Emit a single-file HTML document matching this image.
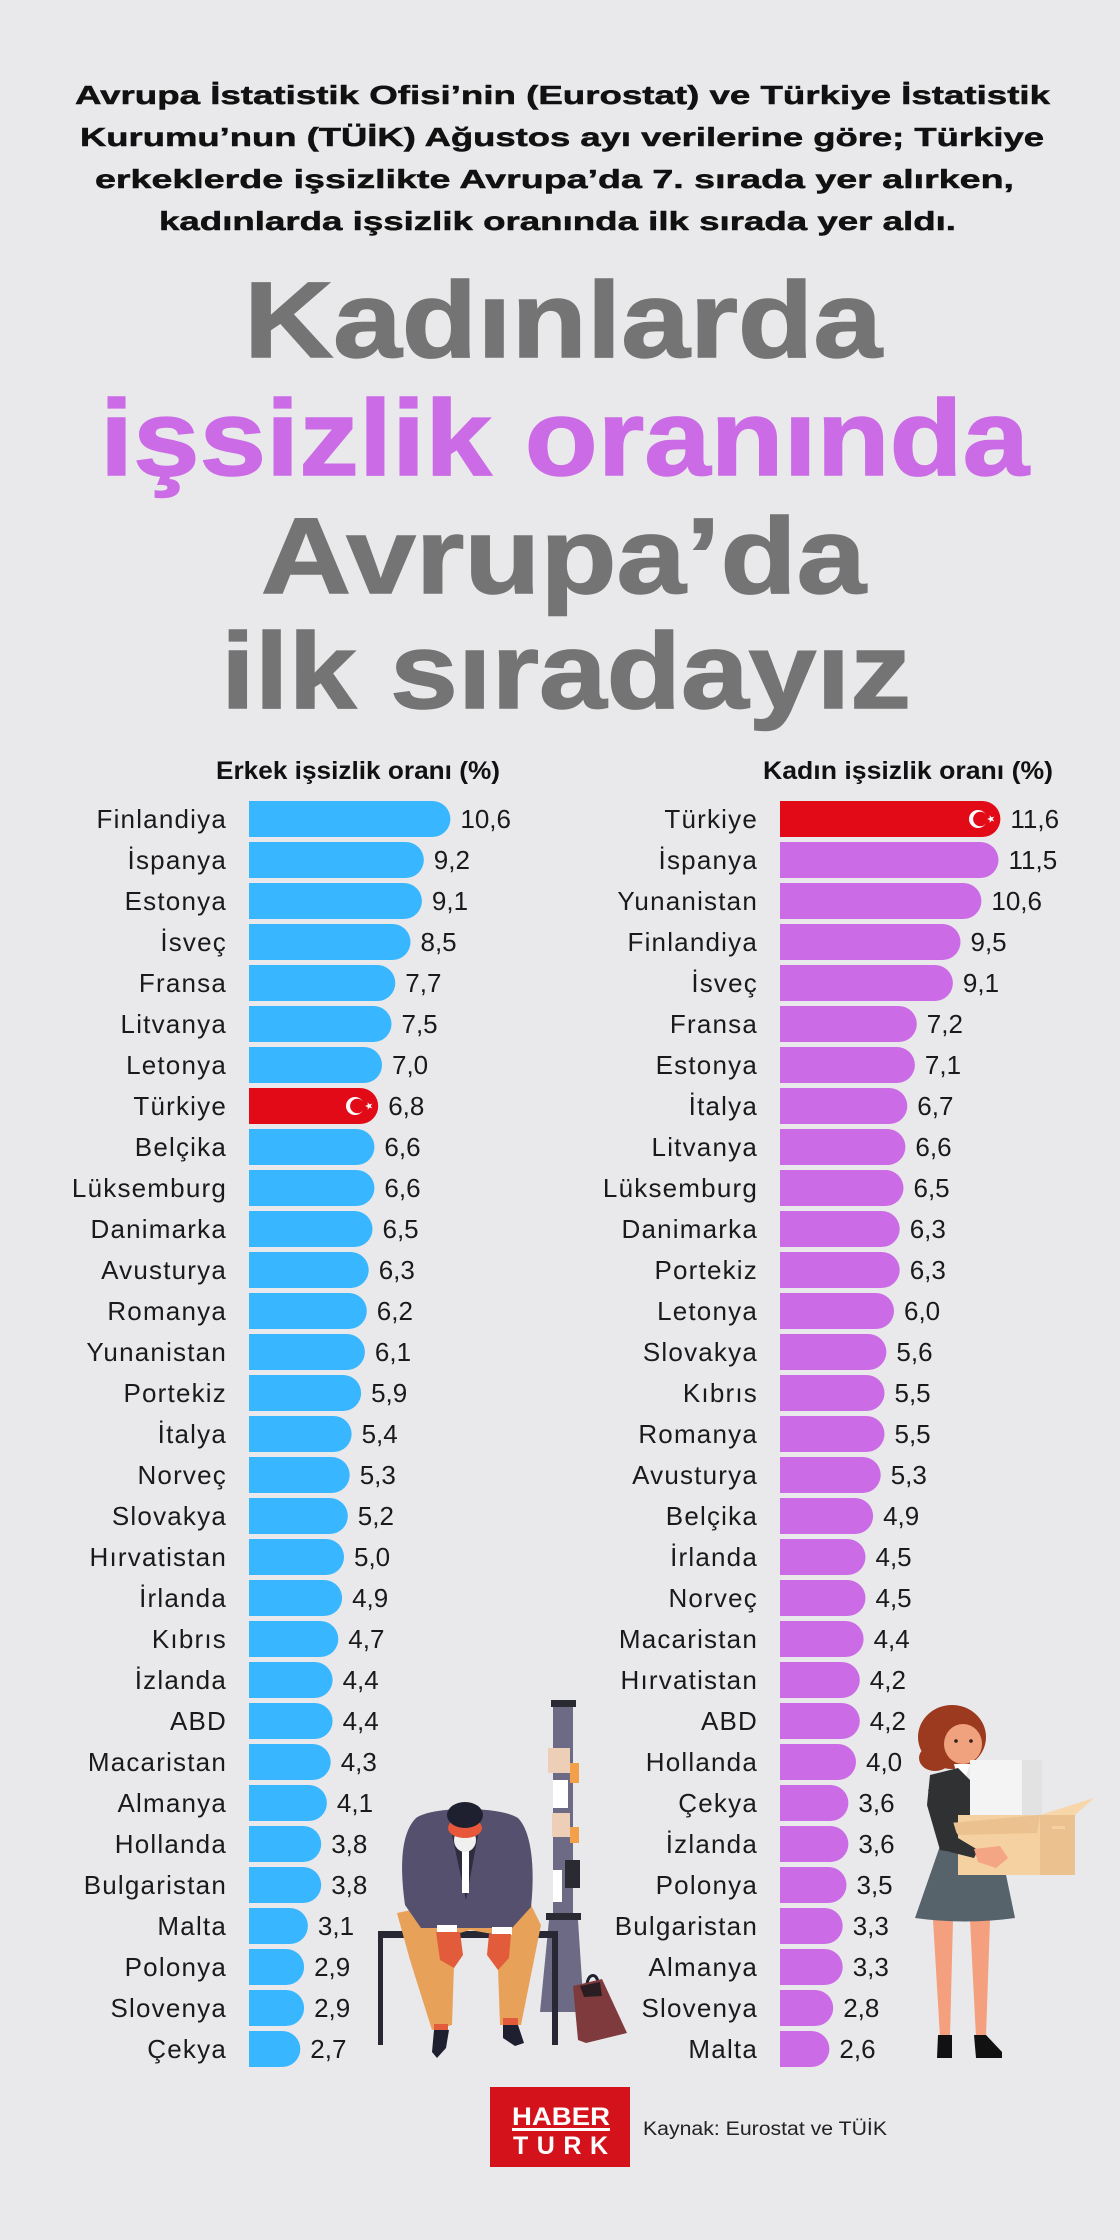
<!DOCTYPE html>
<html lang="tr">
<head>
<meta charset="utf-8">
<style>
html,body{margin:0;padding:0;background:#e9e9eb;}
svg{display:block;}
.t{font-family:"Liberation Sans",sans-serif;}
.intro{font-weight:bold;font-size:26px;fill:#111;stroke:#111;stroke-width:0.5px;}
.title{font-weight:bold;font-size:108px;fill:#747474;stroke:#747474;stroke-width:1.5px;}
.pur{fill:#cb6ce6;stroke:#cb6ce6;}
.hdr{font-weight:bold;font-size:25px;fill:#111;}
.lab{font-size:26px;fill:#1a1a1a;letter-spacing:1.2px;text-anchor:end;}
.val{font-size:26px;fill:#1a1a1a;}
.blue rect{fill:#38b6ff;}
.purp rect{fill:#cb6ce6;}
</style>
</head>
<body>
<svg width="1120" height="2240" viewBox="0 0 1120 2240" xmlns="http://www.w3.org/2000/svg">
<rect width="1120" height="2240" fill="#e9e9eb"/>
<defs>
<clipPath id="cl"><rect x="249" y="0" width="320" height="2240"/></clipPath>
<clipPath id="cr"><rect x="780" y="0" width="340" height="2240"/></clipPath>
<polygon id="star" points="-4,0 -1.29,-0.94 -1.24,-3.8 0.49,-1.52 3.24,-2.35 1.6,0 3.24,2.35 0.49,1.52 -1.24,3.8 -1.29,0.94" fill="#fff"/>
</defs>

<!-- Intro -->
<g class="t intro">
<text x="75" y="104" textLength="975" lengthAdjust="spacingAndGlyphs">Avrupa İstatistik Ofisi’nin (Eurostat) ve Türkiye İstatistik</text>
<text x="80" y="146" textLength="964" lengthAdjust="spacingAndGlyphs">Kurumu’nun (TÜİK) Ağustos ayı verilerine göre; Türkiye</text>
<text x="95" y="188" textLength="919" lengthAdjust="spacingAndGlyphs">erkeklerde işsizlikte Avrupa’da 7. sırada yer alırken,</text>
<text x="159" y="230" textLength="797" lengthAdjust="spacingAndGlyphs">kadınlarda işsizlik oranında ilk sırada yer aldı.</text>
</g>

<!-- Title -->
<g class="t title">
<text x="244" y="357" textLength="638" lengthAdjust="spacingAndGlyphs">Kadınlarda</text>
<text x="100" y="475" textLength="929" lengthAdjust="spacingAndGlyphs" class="pur">işsizlik oranında</text>
<text x="261" y="593" textLength="605" lengthAdjust="spacingAndGlyphs">Avrupa’da</text>
<text x="221" y="708" textLength="690" lengthAdjust="spacingAndGlyphs">ilk sıradayız</text>
</g>

<!-- Headers -->
<g class="t hdr">
<text x="216" y="779" textLength="284" lengthAdjust="spacingAndGlyphs">Erkek işsizlik oranı (%)</text>
<text x="763" y="779" textLength="290" lengthAdjust="spacingAndGlyphs">Kadın işsizlik oranı (%)</text>
</g>

<!-- Left bars -->
<g clip-path="url(#cl)" class="blue">
<rect x="229" y="801" width="221.4" height="36" rx="18"/>
<rect x="229" y="842" width="194.8" height="36" rx="18"/>
<rect x="229" y="883" width="192.9" height="36" rx="18"/>
<rect x="229" y="924" width="181.5" height="36" rx="18"/>
<rect x="229" y="965" width="166.3" height="36" rx="18"/>
<rect x="229" y="1006" width="162.5" height="36" rx="18"/>
<rect x="229" y="1047" width="153" height="36" rx="18"/>
<rect x="229" y="1088" width="149.2" height="36" rx="18" style="fill:#e30a17"/>
<rect x="229" y="1129" width="145.4" height="36" rx="18"/>
<rect x="229" y="1170" width="145.4" height="36" rx="18"/>
<rect x="229" y="1211" width="143.5" height="36" rx="18"/>
<rect x="229" y="1252" width="139.7" height="36" rx="18"/>
<rect x="229" y="1293" width="137.8" height="36" rx="18"/>
<rect x="229" y="1334" width="135.9" height="36" rx="18"/>
<rect x="229" y="1375" width="132.1" height="36" rx="18"/>
<rect x="229" y="1416" width="122.6" height="36" rx="18"/>
<rect x="229" y="1457" width="120.7" height="36" rx="18"/>
<rect x="229" y="1498" width="118.8" height="36" rx="18"/>
<rect x="229" y="1539" width="115" height="36" rx="18"/>
<rect x="229" y="1580" width="113.1" height="36" rx="18"/>
<rect x="229" y="1621" width="109.3" height="36" rx="18"/>
<rect x="229" y="1662" width="103.6" height="36" rx="18"/>
<rect x="229" y="1703" width="103.6" height="36" rx="18"/>
<rect x="229" y="1744" width="101.7" height="36" rx="18"/>
<rect x="229" y="1785" width="97.9" height="36" rx="18"/>
<rect x="229" y="1826" width="92.2" height="36" rx="18"/>
<rect x="229" y="1867" width="92.2" height="36" rx="18"/>
<rect x="229" y="1908" width="78.9" height="36" rx="18"/>
<rect x="229" y="1949" width="75.1" height="36" rx="18"/>
<rect x="229" y="1990" width="75.1" height="36" rx="18"/>
<rect x="229" y="2031" width="71.3" height="36" rx="18"/>
</g>
<!-- Left flag -->
<circle cx="355" cy="1106" r="9" fill="#fff"/>
<circle cx="357.3" cy="1106" r="7.2" fill="#e30a17"/>
<use href="#star" x="369" y="1106"/>

<!-- Left labels -->
<g class="t lab">
<text x="227" y="828">Finlandiya</text>
<text x="227" y="869">İspanya</text>
<text x="227" y="910">Estonya</text>
<text x="227" y="951">İsveç</text>
<text x="227" y="992">Fransa</text>
<text x="227" y="1033">Litvanya</text>
<text x="227" y="1074">Letonya</text>
<text x="227" y="1115">Türkiye</text>
<text x="227" y="1156">Belçika</text>
<text x="227" y="1197">Lüksemburg</text>
<text x="227" y="1238">Danimarka</text>
<text x="227" y="1279">Avusturya</text>
<text x="227" y="1320">Romanya</text>
<text x="227" y="1361">Yunanistan</text>
<text x="227" y="1402">Portekiz</text>
<text x="227" y="1443">İtalya</text>
<text x="227" y="1484">Norveç</text>
<text x="227" y="1525">Slovakya</text>
<text x="227" y="1566">Hırvatistan</text>
<text x="227" y="1607">İrlanda</text>
<text x="227" y="1648">Kıbrıs</text>
<text x="227" y="1689">İzlanda</text>
<text x="227" y="1730">ABD</text>
<text x="227" y="1771">Macaristan</text>
<text x="227" y="1812">Almanya</text>
<text x="227" y="1853">Hollanda</text>
<text x="227" y="1894">Bulgaristan</text>
<text x="227" y="1935">Malta</text>
<text x="227" y="1976">Polonya</text>
<text x="227" y="2017">Slovenya</text>
<text x="227" y="2058">Çekya</text>
</g>
<!-- Left values -->
<g class="t val">
<text x="460.4" y="828">10,6</text>
<text x="433.8" y="869">9,2</text>
<text x="431.9" y="910">9,1</text>
<text x="420.5" y="951">8,5</text>
<text x="405.3" y="992">7,7</text>
<text x="401.5" y="1033">7,5</text>
<text x="392" y="1074">7,0</text>
<text x="388.2" y="1115">6,8</text>
<text x="384.4" y="1156">6,6</text>
<text x="384.4" y="1197">6,6</text>
<text x="382.5" y="1238">6,5</text>
<text x="378.7" y="1279">6,3</text>
<text x="376.8" y="1320">6,2</text>
<text x="374.9" y="1361">6,1</text>
<text x="371.1" y="1402">5,9</text>
<text x="361.6" y="1443">5,4</text>
<text x="359.7" y="1484">5,3</text>
<text x="357.8" y="1525">5,2</text>
<text x="354" y="1566">5,0</text>
<text x="352.1" y="1607">4,9</text>
<text x="348.3" y="1648">4,7</text>
<text x="342.6" y="1689">4,4</text>
<text x="342.6" y="1730">4,4</text>
<text x="340.7" y="1771">4,3</text>
<text x="336.9" y="1812">4,1</text>
<text x="331.2" y="1853">3,8</text>
<text x="331.2" y="1894">3,8</text>
<text x="317.9" y="1935">3,1</text>
<text x="314.1" y="1976">2,9</text>
<text x="314.1" y="2017">2,9</text>
<text x="310.3" y="2058">2,7</text>
</g>

<!-- Right bars -->
<g clip-path="url(#cr)" class="purp">
<rect x="760" y="801" width="240.4" height="36" rx="18" style="fill:#e30a17"/>
<rect x="760" y="842" width="238.5" height="36" rx="18"/>
<rect x="760" y="883" width="221.4" height="36" rx="18"/>
<rect x="760" y="924" width="200.5" height="36" rx="18"/>
<rect x="760" y="965" width="192.9" height="36" rx="18"/>
<rect x="760" y="1006" width="156.8" height="36" rx="18"/>
<rect x="760" y="1047" width="154.9" height="36" rx="18"/>
<rect x="760" y="1088" width="147.3" height="36" rx="18"/>
<rect x="760" y="1129" width="145.4" height="36" rx="18"/>
<rect x="760" y="1170" width="143.5" height="36" rx="18"/>
<rect x="760" y="1211" width="139.7" height="36" rx="18"/>
<rect x="760" y="1252" width="139.7" height="36" rx="18"/>
<rect x="760" y="1293" width="134" height="36" rx="18"/>
<rect x="760" y="1334" width="126.4" height="36" rx="18"/>
<rect x="760" y="1375" width="124.5" height="36" rx="18"/>
<rect x="760" y="1416" width="124.5" height="36" rx="18"/>
<rect x="760" y="1457" width="120.7" height="36" rx="18"/>
<rect x="760" y="1498" width="113.1" height="36" rx="18"/>
<rect x="760" y="1539" width="105.5" height="36" rx="18"/>
<rect x="760" y="1580" width="105.5" height="36" rx="18"/>
<rect x="760" y="1621" width="103.6" height="36" rx="18"/>
<rect x="760" y="1662" width="99.8" height="36" rx="18"/>
<rect x="760" y="1703" width="99.8" height="36" rx="18"/>
<rect x="760" y="1744" width="96" height="36" rx="18"/>
<rect x="760" y="1785" width="88.4" height="36" rx="18"/>
<rect x="760" y="1826" width="88.4" height="36" rx="18"/>
<rect x="760" y="1867" width="86.5" height="36" rx="18"/>
<rect x="760" y="1908" width="82.7" height="36" rx="18"/>
<rect x="760" y="1949" width="82.7" height="36" rx="18"/>
<rect x="760" y="1990" width="73.2" height="36" rx="18"/>
<rect x="760" y="2031" width="69.4" height="36" rx="18"/>
</g>
<!-- Right flag -->
<circle cx="978" cy="819" r="9" fill="#fff"/>
<circle cx="980.3" cy="819" r="7.2" fill="#e30a17"/>
<use href="#star" x="991" y="819"/>

<!-- Right labels -->
<g class="t lab">
<text x="758" y="828">Türkiye</text>
<text x="758" y="869">İspanya</text>
<text x="758" y="910">Yunanistan</text>
<text x="758" y="951">Finlandiya</text>
<text x="758" y="992">İsveç</text>
<text x="758" y="1033">Fransa</text>
<text x="758" y="1074">Estonya</text>
<text x="758" y="1115">İtalya</text>
<text x="758" y="1156">Litvanya</text>
<text x="758" y="1197">Lüksemburg</text>
<text x="758" y="1238">Danimarka</text>
<text x="758" y="1279">Portekiz</text>
<text x="758" y="1320">Letonya</text>
<text x="758" y="1361">Slovakya</text>
<text x="758" y="1402">Kıbrıs</text>
<text x="758" y="1443">Romanya</text>
<text x="758" y="1484">Avusturya</text>
<text x="758" y="1525">Belçika</text>
<text x="758" y="1566">İrlanda</text>
<text x="758" y="1607">Norveç</text>
<text x="758" y="1648">Macaristan</text>
<text x="758" y="1689">Hırvatistan</text>
<text x="758" y="1730">ABD</text>
<text x="758" y="1771">Hollanda</text>
<text x="758" y="1812">Çekya</text>
<text x="758" y="1853">İzlanda</text>
<text x="758" y="1894">Polonya</text>
<text x="758" y="1935">Bulgaristan</text>
<text x="758" y="1976">Almanya</text>
<text x="758" y="2017">Slovenya</text>
<text x="758" y="2058">Malta</text>
</g>
<!-- Right values -->
<g class="t val">
<text x="1010.4" y="828">11,6</text>
<text x="1008.5" y="869">11,5</text>
<text x="991.4" y="910">10,6</text>
<text x="970.5" y="951">9,5</text>
<text x="962.9" y="992">9,1</text>
<text x="926.8" y="1033">7,2</text>
<text x="924.9" y="1074">7,1</text>
<text x="917.3" y="1115">6,7</text>
<text x="915.4" y="1156">6,6</text>
<text x="913.5" y="1197">6,5</text>
<text x="909.7" y="1238">6,3</text>
<text x="909.7" y="1279">6,3</text>
<text x="904" y="1320">6,0</text>
<text x="896.4" y="1361">5,6</text>
<text x="894.5" y="1402">5,5</text>
<text x="894.5" y="1443">5,5</text>
<text x="890.7" y="1484">5,3</text>
<text x="883.1" y="1525">4,9</text>
<text x="875.5" y="1566">4,5</text>
<text x="875.5" y="1607">4,5</text>
<text x="873.6" y="1648">4,4</text>
<text x="869.8" y="1689">4,2</text>
<text x="869.8" y="1730">4,2</text>
<text x="866" y="1771">4,0</text>
<text x="858.4" y="1812">3,6</text>
<text x="858.4" y="1853">3,6</text>
<text x="856.5" y="1894">3,5</text>
<text x="852.7" y="1935">3,3</text>
<text x="852.7" y="1976">3,3</text>
<text x="843.2" y="2017">2,8</text>
<text x="839.4" y="2058">2,6</text>
</g>

<!-- Man illustration -->
<g>
  <rect x="553" y="1706" width="20" height="208" fill="#6d6a86"/>
  <rect x="551" y="1700" width="25" height="7" fill="#2a2a33"/>
  <rect x="548" y="1748" width="22" height="25" fill="#edcfb8"/>
  <rect x="570" y="1763" width="9" height="20" fill="#f2a04a"/>
  <rect x="553" y="1780" width="15" height="28" fill="#ffffff"/>
  <rect x="552" y="1813" width="18" height="24" fill="#edcfb8"/>
  <rect x="570" y="1827" width="9" height="16" fill="#f2a04a"/>
  <rect x="565" y="1860" width="15" height="28" fill="#2a2a33"/>
  <rect x="553" y="1870" width="9" height="32" fill="#ffffff"/>
  <rect x="546" y="1913" width="35" height="7" fill="#2a2a33"/>
  <polygon points="549,1920 578,1920 584,2012 540,2012" fill="#6d6a86"/>
  <rect x="378" y="1931" width="180" height="7" fill="#272833"/>
  <rect x="378" y="1931" width="5" height="114" fill="#272833"/>
  <rect x="552" y="1931" width="6" height="114" fill="#272833"/>
  <polygon points="397,1913 445,1903 455,1935 452,2025 432,2030 410,1960" fill="#e8a158"/>
  <polygon points="493,1903 530,1903 541,1925 521,2025 500,2025 497,1940" fill="#e8a158"/>
  <polygon points="440,1900 500,1900 498,1935 470,1930 450,1936" fill="#e8a158"/>
  <rect x="434" y="2024" width="14" height="8" fill="#e25c3c"/>
  <rect x="503" y="2018" width="15" height="8" fill="#e25c3c"/>
  <path d="M434,2030 L449,2030 L446,2048 L437,2058 L432,2052 Z" fill="#1e2030"/>
  <path d="M503,2025 L518,2025 L524,2043 L515,2046 L503,2038 Z" fill="#1e2030"/>
  <path d="M405,1905 C399,1862 402,1832 416,1818 C432,1806 500,1806 518,1818 C532,1832 535,1870 531,1907 L512,1928 L421,1928 Z" fill="#55506e"/>
  <path d="M452,1835 L466,1900 L478,1835 Z" fill="#2e2c3e"/>
  <rect x="462" y="1845" width="7" height="48" fill="#ffffff"/>
  <rect x="437" y="1925" width="20" height="8" fill="#ffffff"/>
  <rect x="492" y="1927" width="20" height="8" fill="#ffffff"/>
  <path d="M436,1932 L460,1932 L463,1955 L454,1968 L440,1960 Z" fill="#e25c3c"/>
  <path d="M489,1934 L511,1934 L509,1958 L498,1970 L487,1955 Z" fill="#e25c3c"/>
  <ellipse cx="465" cy="1840" rx="11" ry="12" fill="#f0f0f0"/>
  <ellipse cx="465" cy="1828" rx="17" ry="10" fill="#e8573a"/>
  <ellipse cx="465" cy="1815" rx="18" ry="13" fill="#1e2030"/>
  <path d="M587,1986 C587,1972 599,1972 598,1986" fill="none" stroke="#1e2030" stroke-width="3"/>
  <polygon points="573,1986 602,1979 627,2033 586,2043 578,2040" fill="#7e3a3c"/>
  <polygon points="580,1986 600,1982 602,1996 584,1997" fill="#2a1e22"/>
</g>

<!-- Woman illustration -->
<g>
  <ellipse cx="952" cy="1737" rx="34" ry="32" fill="#9b3a1e"/>
  <ellipse cx="935" cy="1758" rx="16" ry="13" fill="#9b3a1e"/>
  <ellipse cx="963" cy="1744" rx="19" ry="20" fill="#f0a27f"/>
  <circle cx="956" cy="1741" r="1.8" fill="#2a1e22"/>
  <circle cx="971" cy="1741" r="1.8" fill="#2a1e22"/>
  <polygon points="954,1764 970,1764 966,1776 957,1776" fill="#ffffff"/>
  <polygon points="933,1920 953,1920 950,2037 940,2037" fill="#f4a07e"/>
  <polygon points="970,1920 990,1920 986,2037 976,2037" fill="#f4a07e"/>
  <path d="M938,2035 L952,2035 L952,2058 L937,2058 Z" fill="#111"/>
  <path d="M974,2035 L986,2035 L1002,2052 L1002,2058 L976,2058 Z" fill="#111"/>
  <path d="M940,1846 L1000,1846 L1015,1918 Q965,1925 915,1918 Z" fill="#56636b"/>
  <path d="M930,1775 L958,1768 L975,1785 L978,1848 L958,1853 L940,1850 L927,1805 Z" fill="#2f3133"/>
  <rect x="970" y="1760" width="52" height="56" fill="#f4f4f4"/>
  <rect x="1022" y="1760" width="20" height="55" fill="#e2e2e2"/>
  <rect x="958" y="1815" width="82" height="60" fill="#f5d0a0"/>
  <rect x="1040" y="1815" width="35" height="60" fill="#ebc18f"/>
  <polygon points="950,1823 1040,1815 1037,1833 958,1835" fill="#ebc18f"/>
  <polygon points="1040,1815 1094,1798 1075,1815" fill="#f7d6aa"/>
  <rect x="1052" y="1826" width="13" height="3" fill="#f5d0a0"/>
  <path d="M928,1790 L942,1785 L958,1838 L978,1850 L974,1858 L950,1852 Z" fill="#2f3133"/>
  <path d="M974,1849 L1000,1846 L1008,1858 L996,1868 L978,1862 Z" fill="#f4a584"/>
</g>

<!-- Footer -->
<rect x="490" y="2087" width="140" height="80" fill="#d3121b"/>
<text class="t" x="512" y="2125" font-size="25" font-weight="bold" fill="#fff" textLength="98" lengthAdjust="spacingAndGlyphs">HABER</text>
<rect x="512" y="2128" width="98" height="3" fill="#fff"/>
<text class="t" x="513" y="2154" font-size="25" font-weight="bold" fill="#fff" textLength="95" lengthAdjust="spacing">TURK</text>
<text class="t" x="643" y="2135" font-size="19" fill="#222" textLength="244" lengthAdjust="spacingAndGlyphs">Kaynak: Eurostat ve TÜİK</text>
</svg>
</body>
</html>
